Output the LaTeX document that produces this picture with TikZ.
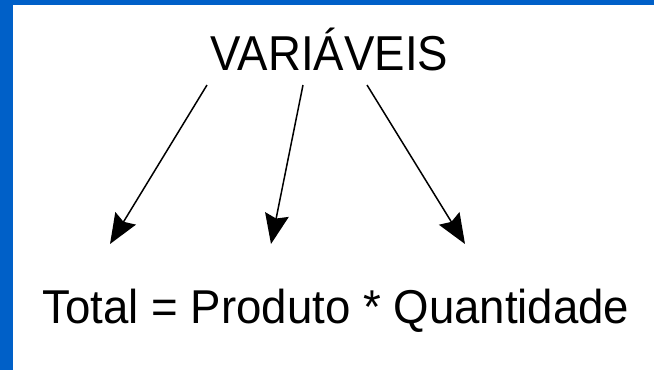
\documentclass[tikz,border=0pt]{standalone}
\usepackage{fontspec}
\setmainfont{Liberation Sans}
\usetikzlibrary{arrows.meta}
\definecolor{slideblue}{RGB}{0,96,200}
\tikzset{
  word/.style={inner sep=0pt,anchor=base},
  pointer/.style={line width=1.5pt,-{Stealth[length=30pt,width=24pt,inset=4pt]}}
}
\begin{document}
\begin{tikzpicture}[x=1pt,y=-1pt]
\useasboundingbox (0,0) rectangle (654,370);
\fill[white] (0,0) rectangle (654,370);
\fill[slideblue] (0,0) rectangle (13,370);
\fill[slideblue] (0,0) rectangle (654,5);

\node[word,xscale=0.93,font=\fontsize{49}{49}\selectfont] (vars) at (329.5,70) {VARIÁVEIS};
\node[word,xscale=0.96,font=\fontsize{47.5}{47.5}\selectfont] (formula) at (336,323) {Total = Produto * Quantidade};

\coordinate (s1) at (207,85);
\coordinate (s2) at (303,85);
\coordinate (s3) at (367,85);
\coordinate (e1) at (110,244);
\coordinate (e2) at (271,244);
\coordinate (e3) at (465,244);
\draw[pointer] (s1) -- (e1);
\draw[pointer] (s2) -- (e2);
\draw[pointer] (s3) -- (e3);
\end{tikzpicture}
\end{document}
